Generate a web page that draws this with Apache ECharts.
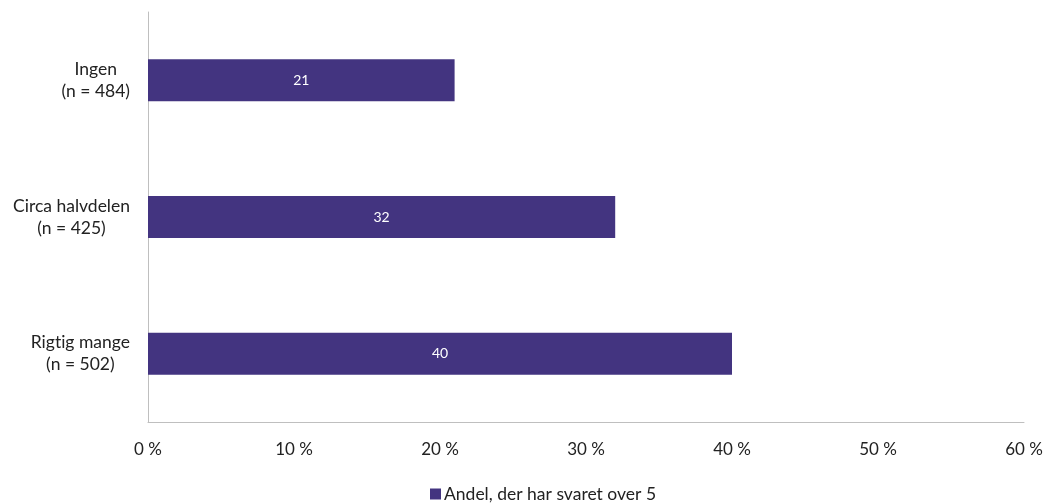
<!DOCTYPE html>
<html>
<head>
<meta charset="utf-8">
<script src="https://cdn.jsdelivr.net/npm/echarts@6/dist/echarts.min.js"></script>
<style>
  html, body { margin: 0; padding: 0; background: #ffffff; }
  #chart { width: 1053px; height: 504px; }
</style>
</head>
<body>
<div id="chart"></div>
<script>
// Categories listed top to bottom (ZWNJ keeps "ti" from forming a ligature)
const categories = ['Ingen\n(n = 484)', 'Circa halvdelen\n(n = 425)', 'Rigt\u200Cig mange\n(n = 502)'];
const values = [21, 32, 40];
const seriesName = 'Andel, der har svaret over 5';
const xTicks = [0, 10, 20, 30, 40, 50, 60];

const font = 'Lato, "Noto Sans", sans-serif';
const textColor = '#222222';
const chart = echarts.init(document.getElementById('chart'));

chart.setOption({
  animation: false,
  textStyle: { fontFamily: font },
  grid: { left: 148, right: 29, top: 12, bottom: 82, containLabel: false },
  legend: {
    bottom: -4,
    left: 425,
    itemWidth: 11,
    itemHeight: 11,
    itemGap: 4,
    icon: 'rect',
    textStyle: { fontFamily: font, fontSize: 17.5, color: textColor, padding: [0, 0, 0, -2] },
    data: [seriesName]
  },
  xAxis: {
    type: 'value',
    min: xTicks[0],
    max: xTicks[xTicks.length - 1],
    interval: 10,
    axisLine: { show: true, lineStyle: { color: '#bfbfbf', width: 1 } },
    axisTick: { show: false },
    splitLine: { show: false },
    axisLabel: {
      margin: 19,
      fontSize: 17,
      color: textColor,
      fontFamily: font,
      formatter: v => v + ' %'
    }
  },
  yAxis: {
    type: 'category',
    inverse: true,
    data: categories,
    axisLine: { show: true, lineStyle: { color: '#bfbfbf', width: 1 } },
    axisTick: { show: false },
    axisLabel: {
      margin: 18,
      align: 'right',
      color: textColor,
      fontFamily: font,
      // each line centred inside the right-aligned label block
      formatter: v => v.split('\n').map(s => '{c|' + s + '}').join('\n'),
      rich: {
        c: { align: 'center', fontSize: 17.5, lineHeight: 22, color: textColor, fontFamily: font }
      }
    }
  },
  series: [{
    name: seriesName,
    type: 'bar',
    data: values,
    barWidth: 42,
    itemStyle: { color: '#433480' },
    label: {
      show: true,
      position: 'inside',
      color: '#ffffff',
      fontSize: 14,
      fontFamily: font
    }
  }]
});
</script>
</body>
</html>
